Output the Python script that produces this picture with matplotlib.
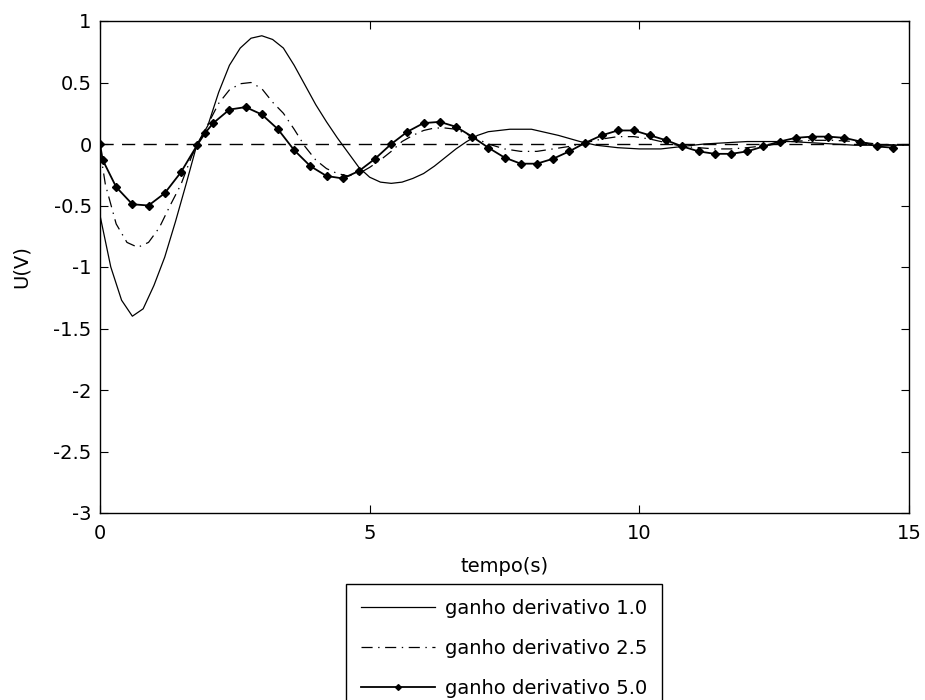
import matplotlib
matplotlib.use("Agg")
import matplotlib.pyplot as plt

plt.rcParams['font.family'] = ['DejaVu Sans']
plt.rcParams['axes.unicode_minus'] = False
plt.rcParams['lines.scale_dashes'] = False

# gain 1.0 (solid)
t1 = [0.0, 0.2, 0.4, 0.6, 0.8, 1.0, 1.2, 1.4, 1.6, 1.8, 2.0, 2.2, 2.4, 2.6, 2.8,
      3.0, 3.2, 3.4, 3.6, 3.8, 4.0, 4.2, 4.4, 4.6, 4.8, 5.0, 5.2, 5.4, 5.6, 5.8,
      6.0, 6.2, 6.4, 6.6, 6.8, 7.0, 7.2, 7.4, 7.6, 7.8, 8.0, 8.2, 8.5, 8.9, 9.2,
      9.6, 10.0, 10.4, 10.8, 11.2, 11.6, 12.0, 12.4, 12.8, 13.2, 13.6, 14.0, 14.5, 15.0]
u1 = [-0.58, -1.0, -1.27, -1.40, -1.34, -1.15, -0.92, -0.63, -0.32, 0.0, 0.15, 0.42, 0.64, 0.78, 0.86,
      0.88, 0.85, 0.78, 0.64, 0.48, 0.32, 0.18, 0.05, -0.07, -0.19, -0.27, -0.31, -0.32, -0.31, -0.28,
      -0.24, -0.18, -0.11, -0.04, 0.02, 0.07, 0.10, 0.11, 0.12, 0.12, 0.12, 0.10, 0.07, 0.02, -0.01,
      -0.03, -0.04, -0.04, -0.02, 0.0, 0.01, 0.02, 0.02, 0.02, 0.01, 0.0, -0.01, -0.01, -0.01]

# gain 2.5 (dash-dot)
t2 = [0.0, 0.1, 0.3, 0.5, 0.7, 0.9, 1.1, 1.3, 1.5, 1.7, 1.8, 2.0, 2.2, 2.4, 2.6, 2.8,
      3.0, 3.2, 3.4, 3.6, 3.8, 4.0, 4.2, 4.4, 4.6, 4.8, 5.0, 5.2, 5.4, 5.6, 5.8,
      6.0, 6.2, 6.4, 6.6, 6.8, 7.0, 7.2, 7.5, 7.8, 8.1, 8.4, 8.7, 9.0, 9.3, 9.6,
      9.9, 10.2, 10.5, 10.8, 11.1, 11.4, 11.7, 12.0, 12.4, 12.8, 13.2, 13.6, 14.0, 14.4, 14.8, 15.0]
u2 = [-0.05, -0.33, -0.65, -0.80, -0.84, -0.80, -0.68, -0.50, -0.33, -0.10, -0.01, 0.16, 0.33, 0.44, 0.49, 0.50,
      0.45, 0.34, 0.25, 0.12, -0.02, -0.13, -0.20, -0.24, -0.26, -0.24, -0.19, -0.13, -0.06, 0.02, 0.07,
      0.11, 0.13, 0.13, 0.12, 0.08, 0.04, 0.0, -0.04, -0.06, -0.06, -0.04, -0.02, 0.01, 0.04, 0.06,
      0.06, 0.04, 0.01, -0.02, -0.03, -0.04, -0.04, -0.03, -0.01, 0.02, 0.03, 0.03, 0.02, 0.0, -0.01, -0.01]

# gain 5.0 (line with markers)
t3 = [0.0, 0.05, 0.3, 0.6, 0.9, 1.2, 1.5, 1.8, 1.95, 2.1, 2.4, 2.7, 3.0, 3.3, 3.6, 3.9,
      4.2, 4.5, 4.8, 5.1, 5.4, 5.7, 6.0, 6.3, 6.6, 6.9, 7.2, 7.5, 7.8, 8.1, 8.4, 8.7,
      9.0, 9.3, 9.6, 9.9, 10.2, 10.5, 10.8, 11.1, 11.4, 11.7, 12.0, 12.3, 12.6, 12.9,
      13.2, 13.5, 13.8, 14.1, 14.4, 14.7]
u3 = [0.0, -0.13, -0.35, -0.49, -0.50, -0.40, -0.23, -0.01, 0.09, 0.17, 0.28, 0.30, 0.24, 0.12, -0.05, -0.18,
      -0.26, -0.28, -0.22, -0.12, 0.0, 0.10, 0.17, 0.18, 0.14, 0.06, -0.03, -0.11, -0.16, -0.16, -0.12, -0.06,
      0.01, 0.07, 0.11, 0.11, 0.07, 0.03, -0.02, -0.06, -0.08, -0.08, -0.06, -0.02, 0.02, 0.05,
      0.06, 0.06, 0.05, 0.02, -0.02, -0.03]

ref_t = [0, 15]
ref_u = [0, 0]

labels = ["ganho derivativo 1.0", "ganho derivativo 2.5", "ganho derivativo 5.0"]
xticks = [0, 5, 10, 15]
yticks = [-3, -2.5, -2, -1.5, -1, -0.5, 0, 0.5, 1]
ytick_labels = ["-3", "-2.5", "-2", "-1.5", "-1", "-0.5", "0", "0.5", "1"]

fig = plt.figure(figsize=(9.25, 7.0), dpi=100)
ax = fig.add_axes([100/925, 1 - 513/700, 809/925, 492/700])

ax.plot(ref_t, ref_u, color='black', lw=1.0, linestyle=(0, (9.5, 6)))
l1, = ax.plot(t1, u1, color='black', lw=0.9, label=labels[0])
l2, = ax.plot(t2, u2, color='black', lw=0.9, linestyle=(0, (8, 4, 1, 4)), label=labels[1])
l3, = ax.plot(t3, u3, color='black', lw=1.3, marker='D', markersize=4.2, label=labels[2])

ax.set_xlim(0, 15)
ax.set_ylim(-3, 1)
ax.set_xticks(xticks)
ax.set_xticklabels([str(x) for x in xticks])
ax.set_yticks(yticks)
ax.set_yticklabels(ytick_labels)
ax.tick_params(direction='in', length=6, width=0.8, top=True, right=True,
               labelsize=14, colors='black')
ax.tick_params(axis='x', pad=8)
ax.tick_params(axis='y', pad=6)
for s in ax.spines.values():
    s.set_linewidth(1.0)
ax.set_xlabel("tempo(s)", fontsize=14, labelpad=10)
ax.set_ylabel("U(V)", fontsize=14, labelpad=16)

leg = fig.legend(handles=[l1, l2, l3], labels=labels, loc='upper center',
                 bbox_to_anchor=(504/925, 1 - 584/700), borderaxespad=0,
                 fontsize=14, frameon=True, fancybox=False, framealpha=1,
                 edgecolor='black', handlelength=3.8, handletextpad=0.5,
                 labelspacing=1.08, borderpad=0.75, markerscale=0.7)
leg.get_frame().set_linewidth(1.0)

fig.savefig("out.png", dpi=100, facecolor='white')
